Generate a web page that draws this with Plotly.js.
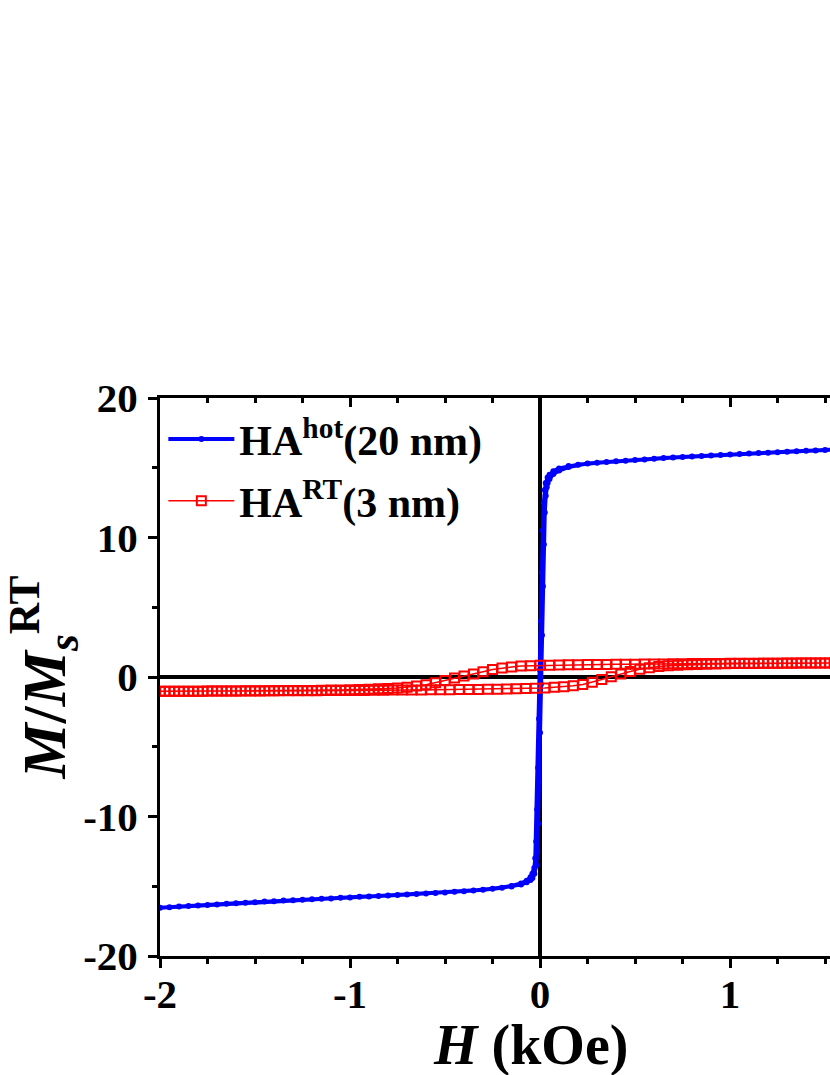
<!DOCTYPE html>
<html>
<head>
<meta charset="utf-8">
<script src="https://cdn.plot.ly/plotly-3.0.1.min.js"></script>
<style>
html,body{margin:0;padding:0;background:#fff;overflow:hidden;}
#chart{width:830px;height:1075px;}
</style>
</head>
<body>
<div id="chart"></div>
<script>
// HA hot (20 nm): descending branch (H from +2 to -2)
const hotDescH = [2.0,1.9,1.8,1.7,1.6,1.5,1.4,1.3,1.2,1.1,1.0,0.9,0.8,0.7,0.6,0.5,0.4,0.3,0.2,0.15,0.1,0.07,0.05,0.04,0.03,0.025,0.02,0.015,0.01,0.005,0.0,-0.005,-0.01,-0.015,-0.02,-0.025,-0.03,-0.04,-0.05,-0.07,-0.1,-0.15,-0.2,-0.3,-0.4,-0.5,-0.6,-0.7,-0.8,-0.9,-1.0,-1.1,-1.2,-1.3,-1.4,-1.5,-1.6,-1.7,-1.8,-1.9,-2.0];
const hotDescM = [16.60,16.54,16.47,16.41,16.34,16.27,16.21,16.15,16.08,16.02,15.95,15.88,15.81,15.73,15.65,15.56,15.46,15.36,15.22,15.12,14.95,14.75,14.5,14.3,13.9,13.4,12.5,10.5,7.5,4.0,0.5,-3.0,-6.5,-9.5,-11.8,-13.0,-13.7,-14.1,-14.35,-14.6,-14.8,-14.98,-15.1,-15.25,-15.35,-15.44,-15.52,-15.6,-15.67,-15.73,-15.8,-15.87,-15.94,-16.0,-16.07,-16.14,-16.22,-16.3,-16.38,-16.46,-16.55];
// HA hot (20 nm): ascending branch (H from -2 to +2)
const hotAscH = [-1.95,-1.85,-1.75,-1.65,-1.55,-1.45,-1.35,-1.25,-1.15,-1.05,-0.95,-0.85,-0.75,-0.65,-0.55,-0.45,-0.35,-0.25,-0.15,-0.1,-0.07,-0.05,-0.04,-0.03,-0.02,-0.015,-0.01,-0.005,0.0,0.005,0.01,0.015,0.02,0.025,0.03,0.035,0.04,0.05,0.07,0.1,0.15,0.25,0.35,0.45,0.55,0.65,0.75,0.85,0.95,1.05,1.15,1.25,1.35,1.45,1.55,1.65,1.75,1.85,1.95];
const hotAscM = [-16.51,-16.42,-16.34,-16.26,-16.18,-16.1,-16.03,-15.97,-15.9,-15.83,-15.76,-15.7,-15.63,-15.56,-15.48,-15.4,-15.3,-15.18,-15.02,-14.88,-14.72,-14.55,-14.4,-14.1,-13.5,-12.5,-10.5,-7.5,-4.0,-0.5,3.0,6.5,9.5,11.8,13.0,13.6,13.9,14.2,14.55,14.8,15.05,15.3,15.42,15.51,15.6,15.69,15.77,15.84,15.91,15.98,16.05,16.11,16.18,16.24,16.31,16.37,16.44,16.5,16.57];

// HA RT (3 nm): descending branch
const rtDescH = [2.0,1.95,1.9,1.85,1.8,1.75,1.7,1.65,1.6,1.55,1.5,1.45,1.4,1.35,1.3,1.25,1.2,1.15,1.1,1.05,1.0,0.95,0.9,0.85,0.8,0.75,0.7,0.65,0.6,0.55,0.5,0.45,0.4,0.35,0.3,0.25,0.2,0.15,0.1,0.05,0.0,-0.05,-0.1,-0.15,-0.2,-0.25,-0.3,-0.35,-0.4,-0.45,-0.5,-0.55,-0.6,-0.65,-0.7,-0.75,-0.8,-0.85,-0.9,-0.95,-1.0,-1.05,-1.1,-1.15,-1.2,-1.25,-1.3,-1.35,-1.4,-1.45,-1.5,-1.55,-1.6,-1.65,-1.7,-1.75,-1.8,-1.85,-1.9,-1.95,-2.0];
const rtDescM = [1.03,1.03,1.03,1.02,1.02,1.02,1.02,1.01,1.01,1.01,1.01,1.0,1.0,1.0,1.0,0.99,0.99,0.99,0.98,0.98,0.98,0.97,0.97,0.96,0.96,0.95,0.95,0.94,0.94,0.93,0.92,0.92,0.91,0.9,0.9,0.89,0.88,0.87,0.86,0.85,0.84,0.81,0.78,0.72,0.65,0.53,0.38,0.22,0.07,-0.08,-0.25,-0.42,-0.55,-0.65,-0.73,-0.78,-0.82,-0.85,-0.88,-0.9,-0.92,-0.93,-0.94,-0.95,-0.96,-0.96,-0.97,-0.97,-0.98,-0.98,-0.99,-0.99,-1.0,-1.0,-1.01,-1.01,-1.02,-1.02,-1.02,-1.03,-1.03];
// HA RT (3 nm): ascending branch
const rtAscH = [-1.975,-1.925,-1.875,-1.825,-1.775,-1.725,-1.675,-1.625,-1.575,-1.525,-1.475,-1.425,-1.375,-1.325,-1.275,-1.225,-1.175,-1.125,-1.075,-1.025,-0.975,-0.925,-0.875,-0.825,-0.775,-0.725,-0.675,-0.625,-0.575,-0.525,-0.475,-0.425,-0.375,-0.325,-0.275,-0.225,-0.175,-0.125,-0.075,-0.025,0.025,0.075,0.125,0.175,0.225,0.275,0.325,0.375,0.425,0.475,0.525,0.575,0.625,0.675,0.725,0.775,0.825,0.875,0.925,0.975,1.025,1.075,1.125,1.175,1.225,1.275,1.325,1.375,1.425,1.475,1.525,1.575,1.625,1.675,1.725,1.775,1.825,1.875,1.925,1.975];
const rtAscM = [-1.03,-1.03,-1.02,-1.02,-1.02,-1.01,-1.01,-1.01,-1.0,-1.0,-1.0,-0.99,-0.99,-0.99,-0.98,-0.98,-0.98,-0.97,-0.97,-0.97,-0.96,-0.96,-0.95,-0.95,-0.94,-0.94,-0.93,-0.93,-0.92,-0.92,-0.91,-0.9,-0.9,-0.89,-0.88,-0.87,-0.86,-0.85,-0.83,-0.81,-0.78,-0.74,-0.69,-0.63,-0.53,-0.38,-0.18,0.02,0.22,0.4,0.55,0.67,0.75,0.81,0.85,0.88,0.9,0.92,0.94,0.95,0.96,0.97,0.97,0.98,0.98,0.99,0.99,1.0,1.0,1.0,1.01,1.01,1.01,1.02,1.02,1.02,1.02,1.03,1.03,1.03];

const seriesNames = ['<b>HA<sup>hot</sup>(20 nm)</b>', '<b>HA<sup>RT</sup>(3 nm)</b>'];
const xTickVals = [-2, -1, 0, 1];
const yTickVals = [-20, -10, 0, 10, 20];

const FONT = 'Liberation Serif, Times New Roman, serif';

const traces = [
  {
    x: hotDescH.concat(hotAscH),
    y: hotDescM.concat(hotAscM),
    name: seriesNames[0],
    mode: 'lines+markers',
    line: {color: '#0000ff', width: 4},
    marker: {color: '#0000ff', size: 6, symbol: 'circle'},
    legendgroup: 'a',
    hoverinfo: 'x+y'
  },
  {
    x: rtDescH.concat(rtAscH),
    y: rtDescM.concat(rtAscM),
    name: seriesNames[1],
    mode: 'lines+markers',
    line: {color: '#ff0000', width: 1.5},
    marker: {color: '#ff0000', size: 9, symbol: 'square-open', line: {color: '#ff0000', width: 2}},
    legendgroup: 'b',
    hoverinfo: 'x+y'
  },
  {
    x: [null], y: [null], xaxis: 'x2', yaxis: 'y', showlegend: false, hoverinfo: 'skip', mode: 'markers'
  }
];

const axisCommon = {
  showline: true, linecolor: '#000', linewidth: 3,
  ticks: 'outside', ticklen: 9, tickwidth: 3, tickcolor: '#000',
  tickfont: {family: FONT, size: 41, color: '#000', weight: 'bold'},
  showgrid: false, zeroline: true, zerolinecolor: '#000', zerolinewidth: 3.5,
  automargin: false
};

const layout = {
  width: 830, height: 1075,
  margin: {l: 160, r: 0, t: 398, b: 119},
  paper_bgcolor: '#fff', plot_bgcolor: '#fff',
  font: {family: FONT, color: '#000'},
  showlegend: true,
  legend: {
    x: 0.005, y: 0.987, xanchor: 'left', yanchor: 'top',
    bgcolor: 'rgba(0,0,0,0)', borderwidth: 0,
    font: {family: FONT, size: 42, color: '#000'},
    itemwidth: 66, tracegroupgap: 4, traceorder: 'grouped'
  },
  xaxis: Object.assign({}, axisCommon, {
    range: [-2, 1.526],
    tickmode: 'array', tickvals: xTickVals, ticktext: xTickVals.map(String),
    ticklabelstandoff: -9,
    minor: {ticks: 'outside', ticklen: 5, tickwidth: 3, tickcolor: '#000', dtick: 0.25, tick0: 0, showgrid: false}
  }),
  xaxis2: {
    overlaying: 'x', matches: 'x', side: 'top', anchor: 'y',
    range: [-2, 1.526],
    showline: true, linecolor: '#000', linewidth: 3,
    ticks: 'inside', ticklen: 9, tickwidth: 3, tickcolor: '#000',
    tickmode: 'array', tickvals: xTickVals,
    minor: {ticks: 'inside', ticklen: 5, tickwidth: 3, tickcolor: '#000', dtick: 0.25, tick0: 0, showgrid: false},
    showticklabels: false, showgrid: false, zeroline: false
  },
  yaxis: Object.assign({}, axisCommon, {
    range: [-20, 20],
    tickmode: 'array', tickvals: yTickVals, ticktext: yTickVals.map(String),
    ticklabelstandoff: 2,
    minor: {ticks: 'outside', ticklen: 5, tickwidth: 3, tickcolor: '#000', dtick: 5, tick0: 0, showgrid: false},
    title: {text: '<b><i>M</i>/<i>M</i><sub><i>s</i></sub><sup>RT</sup></b>', font: {family: FONT, size: 62, color: '#000'}, standoff: 10}
  }),
  annotations: [
    {
      text: '<b><i>H</i> (kOe)</b>', xref: 'x', yref: 'paper', x: -0.05, y: -0.1595,
      xanchor: 'center', yanchor: 'middle', showarrow: false,
      font: {family: FONT, size: 56, color: '#000'}
    }
  ]
};

Plotly.newPlot('chart', traces, layout, {displayModeBar: false, staticPlot: true});
</script>
</body>
</html>
